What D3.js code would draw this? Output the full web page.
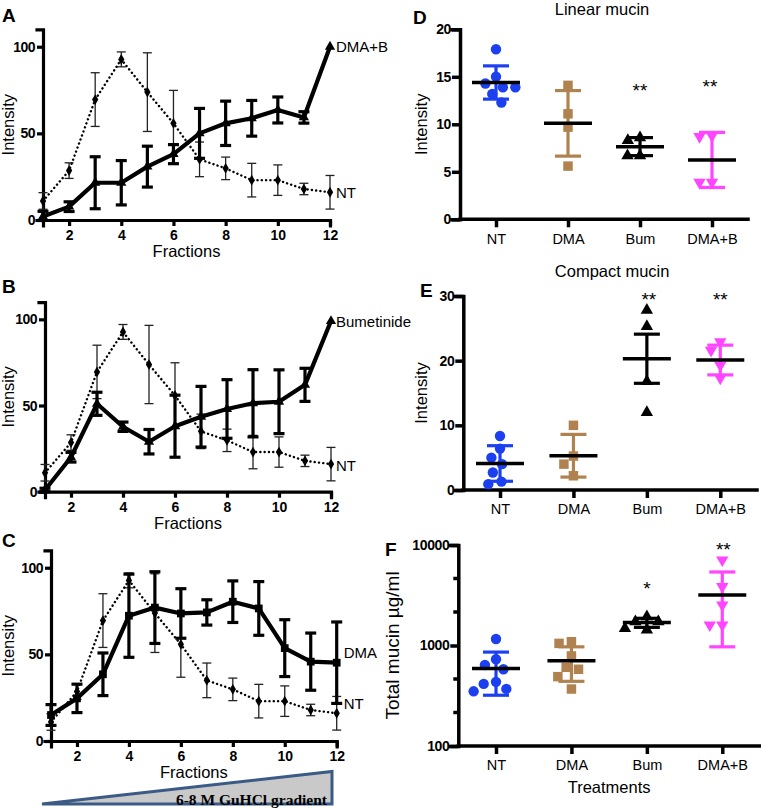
<!DOCTYPE html>
<html><head><meta charset="utf-8">
<script src="https://cdn.jsdelivr.net/npm/d3@7"></script>
<style>
body{margin:0;background:#fff}
svg{display:block}
text{font-family:"Liberation Sans",Arial,Helvetica,sans-serif;fill:#000}
</style>
</head><body>
<svg id="chart" width="761" height="810"></svg>
<script>
// ---------------- DATA ----------------
const fractions = [1,2,3,4,5,6,7,8,9,10,11,12];
const fractionTicks = [2,4,6,8,10,12];
const intensityTicks = [0,50,100];

const ntMean   = [11, 28.5, 69.5, 92.7, 73.8, 55.8, 35, 29.8, 23, 23, 17.9, 16];
const ntErr    = [4.8, 4.5, 15.5, 4.3, 22.7, 19, 10, 6.5, 9.7, 8.8, 3.3, 9.7];

const dmabMean = [2, 7.7, 21.5, 21.5, 30.8, 38, 50, 55.8, 58.7, 63.5, 59.2, 100];
const dmabErr  = [3, 2.8, 15, 12.8, 11.8, 5.5, 14.4, 12.8, 10.3, 7.5, 3.3, 0];

const bumMean  = [1, 20, 51, 37.7, 29, 38, 43.5, 48, 51.3, 52.2, 62, 99];
const bumErr   = [1, 2.8, 6.7, 2.7, 7.1, 18, 17.6, 17, 19.5, 18.5, 9.6, 0];

const dmaMean  = [15, 24.6, 38.5, 72.3, 77, 73.6, 74.2, 80.4, 76.5, 53.6, 45.8, 45.2];
const dmaErr   = [6, 8.2, 12.3, 24, 20.7, 14.3, 7.3, 12, 15.5, 16.4, 16.5, 23.5];

const treatments = ["NT","DMA","Bum","DMA+B"];

// D: Linear mucin (Intensity)
const linearNT   = [17.9, 15.0, 14.3, 13.9, 13.9, 13.2, 12.3];
const linearDMA  = [14.1, 11.1, 9.7, 5.6];
const linearBum  = [8.6, 8.3, 6.7, 6.7];
const linearDMAB = [8.8, 8.7, 3.9, 3.9];
const linearMean = [14.4, 10.1, 7.65, 6.25];
const linearSD   = [1.75, 3.45, 0.95, 2.9];
const linearStars = ["", "", "**", "**"];
const linearTicks = [0,5,10,15,20];

// E: Compact mucin (Intensity)
const compactNT   = [8.35, 6.4, 5.0, 4.0, 2.7, 1.3, 0.9];
const compactDMA  = [10.0, 5.25, 4.0, 2.2];
const compactBum  = [27.8, 25.3, 16.8, 12.0];
const compactDMAB = [22.9, 21.6, 19.3, 17.3];
const compactMean = [4.1, 5.3, 20.3, 20.1];
const compactSD   = [2.75, 3.3, 3.8, 2.3];
const compactStars = ["", "", "**", "**"];
const compactTicks = [0,10,20,30];

// F: Total mucin µg/ml (log)
const totalNT   = [1160, 640, 730, 580, 415, 435, 350, 370];
const totalDMA  = [1090, 1050, 787, 607, 580, 490, 369];
const totalBum  = [1940, 1730, 1730, 1480, 1430];
const totalDMAB = [7100, 3850, 2530, 1600, 1600];
const totalMean = [590, 705, 1690, 3180];
const totalSD   = [270, 265, 175, 2210];
const totalStars = ["", "", "*", "**"];
const totalTicks = [100, 1000, 10000];

// ---------------- STYLE / LAYOUT ----------------
const svg = d3.select("#chart");
const BLUE = "#1c40f0", BROWN = "#b0824f", BLACK = "#000", MAGENTA = "#ff45ff";
const groupColors = [BLUE, BROWN, BLACK, MAGENTA];
const symDown = {draw(ctx, size){ const s = Math.sqrt(size/ (Math.sqrt(3)/4)); const h = s*Math.sqrt(3)/2;
  ctx.moveTo(-s/2, -h/3); ctx.lineTo(s/2, -h/3); ctx.lineTo(0, 2*h/3); ctx.closePath(); }};
const symUp = {draw(ctx, size){ const s = Math.sqrt(size/ (Math.sqrt(3)/4)); const h = s*Math.sqrt(3)/2;
  ctx.moveTo(-s/2, h/3); ctx.lineTo(s/2, h/3); ctx.lineTo(0, -2*h/3); ctx.closePath(); }};
const groupSymbols = [d3.symbolCircle, d3.symbolSquare, symUp, symDown];

function styleAxis(g, w){
  g.select(".domain").attr("stroke","#000").attr("stroke-width",w).attr("stroke-linecap","square");
  g.selectAll(".tick line").attr("stroke","#000").attr("stroke-width",w);
}

function letter(t, x, y){
  svg.append("text").attr("x",x).attr("y",y).text(t)
    .style("font-weight","bold").style("font-size","19px");
}

// -------- line panels (A, B, C) --------
function linePanel(cfg){
  const x = d3.scaleLinear().domain([1,12]).range(cfg.xr);
  const y = d3.scaleLinear().domain([0,110]).range(cfg.yr);
  const g = svg.append("g");

  const ax = g.append("g").attr("transform",`translate(0,${cfg.yr[0]})`)
    .call(d3.axisBottom(x).tickValues(fractionTicks).tickSizeOuter(0).tickSize(6).tickPadding(4));
  styleAxis(ax,3.2);
  ax.selectAll("text").style("font-size","14px").style("font-weight","bold");
  const ay = g.append("g").attr("transform",`translate(${cfg.xr[0]},0)`)
    .call(d3.axisLeft(y).tickValues(intensityTicks).tickSizeOuter(0).tickSize(6).tickPadding(2));
  styleAxis(ay,3.2);
  ay.selectAll("text").style("font-size","14px").style("font-weight","bold").style("letter-spacing","-0.5px");

  g.append("text").attr("x",(cfg.xr[0]+cfg.xr[1])/2).attr("y",cfg.yr[0]+37)
    .attr("text-anchor","middle").style("font-size","16.5px").text("Fractions");
  g.append("text").attr("transform",`translate(14,${(cfg.yr[0]+cfg.yr[1])/2}) rotate(-90)`)
    .attr("text-anchor","middle").style("font-size","16.5px").text("Intensity");

  const nt = fractions.map((f,i)=>({f, m:ntMean[i], e:ntErr[i]}));
  const tr = fractions.map((f,i)=>({f, m:cfg.mean[i], e:cfg.err[i]}));

  // thin NT error bars
  const eb = g.append("g").attr("stroke","#222").attr("stroke-width",1.3);
  nt.forEach(d=>{
    if(!d.e) return;
    eb.append("line").attr("x1",x(d.f)).attr("x2",x(d.f)).attr("y1",y(d.m-d.e)).attr("y2",y(d.m+d.e));
    [d.m-d.e,d.m+d.e].forEach(v=>eb.append("line").attr("x1",x(d.f)-4.5).attr("x2",x(d.f)+4.5).attr("y1",y(v)).attr("y2",y(v)));
  });
  g.append("path").datum(nt).attr("fill","none").attr("stroke","#000").attr("stroke-width",2.4)
    .attr("stroke-dasharray","0.1,4.2").attr("stroke-linecap","round")
    .attr("d", d3.line().x(d=>x(d.f)).y(d=>y(d.m)));
  g.selectAll(null).data(nt).join("path")
    .attr("transform",d=>`translate(${x(d.f)},${y(d.m)})`)
    .attr("d", d3.symbol(d3.symbolDiamond, 34)).attr("fill","#000");

  // thick treatment series
  const tb = g.append("g").attr("stroke","#000").attr("stroke-width",3.2);
  tr.forEach(d=>{
    if(!d.e) return;
    tb.append("line").attr("x1",x(d.f)).attr("x2",x(d.f)).attr("y1",y(Math.max(0,d.m-d.e))).attr("y2",y(d.m+d.e));
    [d.m-d.e,d.m+d.e].forEach(v=>{ if(v<0) return; tb.append("line").attr("x1",x(d.f)-5.5).attr("x2",x(d.f)+5.5).attr("y1",y(v)).attr("y2",y(v));});
  });
  g.append("path").datum(tr).attr("fill","none").attr("stroke","#000").attr("stroke-width",4.2)
    .attr("stroke-linejoin","round")
    .attr("d", d3.line().x(d=>x(d.f)).y(d=>y(d.m)));
  g.selectAll(null).data(tr).join("path")
    .attr("transform",d=>`translate(${x(d.f)},${y(d.m)})`)
    .attr("d", d3.symbol(cfg.symbol, cfg.symSize)).attr("fill","#000");

  const last = tr[tr.length-1], lastNt = nt[nt.length-1];
  g.append("text").attr("x",x(last.f)+cfg.lx).attr("y",y(last.m)+cfg.ldy).attr("dy","0.36em")
    .style("font-size","15px").text(cfg.label);
  g.append("text").attr("x",x(lastNt.f)+cfg.lx).attr("y",y(lastNt.m)+cfg.ldy).attr("dy","0.36em")
    .style("font-size","15px").text("NT");
}

linePanel({xr:[43,330], yr:[220,29.4], mean:dmabMean, err:dmabErr, symbol:symUp, symSize:45, label:"DMA+B", lx:6, ldy:0});
linePanel({xr:[45,331], yr:[491.7,302.1], mean:bumMean, err:bumErr, symbol:symUp, symSize:45, label:"Bumetinide", lx:5, ldy:1});
linePanel({xr:[51,336.7], yr:[741,550.4], mean:dmaMean, err:dmaErr, symbol:d3.symbolSquare, symSize:60, label:"DMA", lx:7, ldy:-10});
letter("A",2,22); letter("B",2,293); letter("C",2,547);

// gradient wedge
svg.append("polygon").attr("points","42,804 332,771.5 332,804")
  .attr("fill","#c9c9c9").attr("stroke","#3b5a86").attr("stroke-width",3).attr("stroke-linejoin","miter");
svg.append("text").attr("x",327).attr("y",805).attr("text-anchor","end")
  .style("font-family","'Liberation Serif','Times New Roman',serif").style("font-weight","bold").style("font-size","15.5px")
  .text("6-8 M GuHCl gradient");

// -------- dot plots (D, E, F) --------
function swarm(vals, y, d){
  const pts = vals.map(v=>({v, y:y(v)})).sort((a,b)=>a.y-b.y);
  const placed = [];
  pts.forEach(p=>{
    const near = placed.filter(q=>Math.abs(q.y-p.y) < d);
    const c = [0];
    near.forEach(q=>{ const w = Math.sqrt(d*d-(q.y-p.y)**2); c.push(q.dx-w, q.dx+w); });
    c.sort((a,b)=>Math.abs(a)-Math.abs(b) || a-b);
    p.dx = c.find(cc=>near.every(q=>Math.hypot(q.dx-cc,q.y-p.y) >= d-1e-6));
    placed.push(p);
  });
  return placed;
}

function dotPanel(cfg){
  const x = d3.scalePoint().domain(treatments).range(cfg.xr).padding(0.5);
  const y = cfg.log ? d3.scaleLog().domain(cfg.dom).range(cfg.yr) : d3.scaleLinear().domain(cfg.dom).range(cfg.yr);
  const g = svg.append("g");

  const ax = g.append("g").attr("transform",`translate(0,${cfg.yr[0]})`)
    .call(d3.axisBottom(x).tickSizeOuter(0).tickSize(8).tickPadding(6));
  styleAxis(ax,3.5);
  ax.select(".domain").attr("d",`M${cfg.xr[0]},0H${cfg.xr[1]}`);
  ax.selectAll("text").style("font-size","14.5px");

  const ay = g.append("g").attr("transform",`translate(${cfg.xr[0]},0)`)
    .call(d3.axisLeft(y).tickValues(cfg.ticks).tickFormat(d3.format("d")).tickSizeOuter(0).tickSize(8).tickPadding(1));
  styleAxis(ay,3.5);
  ay.selectAll("text").style("font-size","14px").style("font-weight","bold").style("letter-spacing","-0.4px");
  if(cfg.minor){
    g.append("g").selectAll("line").data(cfg.minor).join("line")
      .attr("x1",cfg.xr[0]-5).attr("x2",cfg.xr[0]).attr("y1",d=>y(d)).attr("y2",d=>y(d))
      .attr("stroke","#000").attr("stroke-width",3.5);
  }

  if(cfg.title) g.append("text").attr("x",(cfg.xr[0]+cfg.xr[1])/2+cfg.tdx).attr("y",cfg.ty)
    .attr("text-anchor","middle").style("font-size","16.5px").text(cfg.title);
  if(cfg.xtitle) g.append("text").attr("x",(cfg.xr[0]+cfg.xr[1])/2).attr("y",cfg.yr[0]+47)
    .attr("text-anchor","middle").style("font-size","16.5px").text(cfg.xtitle);
  g.append("text").attr("transform",`translate(${cfg.ytx},${(cfg.yr[0]+cfg.yr[1])/2}) rotate(-90)`)
    .attr("text-anchor","middle").style("font-size",cfg.ytSize).text(cfg.ytitle);

  treatments.forEach((t,i)=>{
    const cx = x(t), col = groupColors[i];
    const pts = swarm(cfg.groups[i], y, 12.5);
    g.selectAll(null).data(pts).join("path")
      .attr("transform",d=>`translate(${cx+d.dx},${d.y})`)
      .attr("d", d3.symbol(groupSymbols[i], i===0?85:(i===1?90:66))).attr("fill",col);
    const m = cfg.mean[i], s = cfg.sd[i];
    const lo = m - s, hi = m + s;
    g.append("line").attr("x1",cx).attr("x2",cx).attr("y1",y(lo)).attr("y2",y(hi))
      .attr("stroke",col).attr("stroke-width",3.2);
    [lo,hi].forEach(v=>g.append("line").attr("x1",cx-13).attr("x2",cx+13).attr("y1",y(v)).attr("y2",y(v))
      .attr("stroke",col).attr("stroke-width",3.2));
    g.append("line").attr("x1",cx-24).attr("x2",cx+24).attr("y1",y(m)).attr("y2",y(m))
      .attr("stroke","#000").attr("stroke-width",3.5);
    if(cfg.stars[i]) g.append("text").attr("x",cx+cfg.sdx[i]).attr("y",y(cfg.starLv[i])+10)
      .attr("text-anchor","middle").style("font-size","19px").text(cfg.stars[i]);
  });
}

dotPanel({xr:[460,748], yr:[219.3,29.3], dom:[0,20], ticks:linearTicks,
  groups:[linearNT,linearDMA,linearBum,linearDMAB], mean:linearMean, sd:linearSD,
  stars:linearStars, starLv:[0,0,13.9,14.3], sdx:[0,0,0,-2],
  title:"Linear mucin", ty:15, tdx:-2, ytitle:"Intensity", ytx:427, ytSize:"16.5px"});
dotPanel({xr:[463.3,757], yr:[490,296], dom:[0,30], ticks:compactTicks,
  groups:[compactNT,compactDMA,compactBum,compactDMAB], mean:compactMean, sd:compactSD,
  stars:compactStars, starLv:[0,0,30,30], sdx:[0,0,2,0],
  title:"Compact mucin", ty:277, tdx:2, ytitle:"Intensity", ytx:427, ytSize:"16.5px"});
dotPanel({xr:[458.3,760], yr:[746,545], dom:[100,10000], log:true, ticks:totalTicks,
  minor:[215.4,464.2,2154,4642],
  groups:[totalNT,totalDMA,totalBum,totalDMAB], mean:totalMean, sd:totalSD,
  stars:totalStars, starLv:[0,0,4000,9750], sdx:[0,0,0,1],
  xtitle:"Treatments", ytitle:"Total mucin \u00b5g/ml", ytx:399, ytSize:"19px"});
letter("D",413,24); letter("E",420,297); letter("F",385,556);
</script>
</body></html>
